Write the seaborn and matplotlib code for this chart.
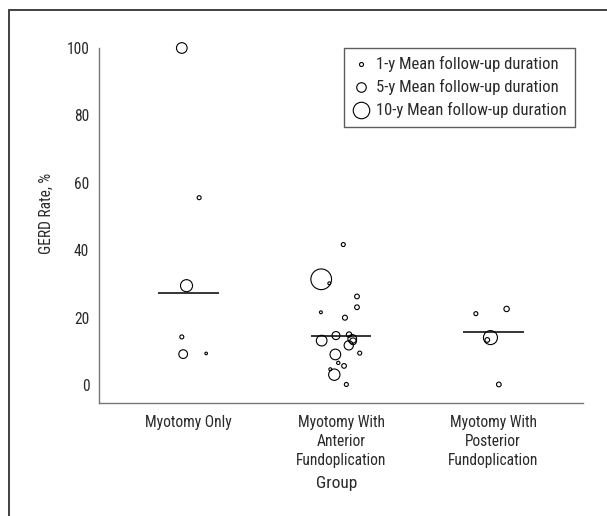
import matplotlib
matplotlib.use("Agg")
import matplotlib.pyplot as plt
from matplotlib import font_manager
from matplotlib.lines import Line2D
from matplotlib.patches import Rectangle
import pandas as pd
import seaborn as sns

groups = ["Myotomy Only",
          "Myotomy With\nAnterior\nFundoplication",
          "Myotomy With\nPosterior\nFundoplication"]

# per-study GERD rate (%), mean follow-up (y) and horizontal jitter
only_rate = [100, 55.6, 29.5, 14.3, 9.2, 9.4]
only_years = [5.8, 1.0, 6.8, 1.0, 4.4, 0.0]
only_jitter = [-0.046, 0.068, -0.015, -0.046, -0.037, 0.114]

ant_rate = [41.7, 31.4, 30.2, 26.3, 23.1, 21.6, 20.0, 14.7, 15.0, 13.2,
            13.7, 13.0, 11.8, 9.5, 9.1, 6.6, 5.7, 4.7, 3.1, 0.2]
ant_years = [1.0, 13.0, 0.2, 1.5, 1.5, 0.2, 1.7, 3.9, 2.0, 5.8,
             4.4, 3.0, 4.8, 1.0, 5.8, 0.5, 1.5, 0.3, 6.3, 1.0]
ant_jitter = [0.015, -0.13, -0.077, 0.105, 0.105, -0.132, 0.026, -0.033, 0.053, -0.127,
              0.074, 0.079, 0.051, 0.123, -0.037, -0.018, 0.02, -0.07, -0.044, 0.035]

post_rate = [21.2, 22.6, 14.1, 13.4, 0.2]
post_years = [1.0, 2.0, 8.2, 1.5, 1.5]
post_jitter = [-0.114, 0.088, -0.018, -0.039, 0.037]

group_means = [27.2, 14.5, 15.9]

legend_years = [1, 5, 10]
legend_labels = ["1-y Mean follow-up duration",
                 "5-y Mean follow-up duration",
                 "10-y Mean follow-up duration"]


def marker_pt(years):
    # circle diameter grows linearly with follow-up, in points
    return (2.6 + 1.39 * years) * 72 / 100


def pick_font():
    # the original uses a narrow Helvetica; take the closest narrow face available
    fonts = font_manager.fontManager.ttflist
    names = {f.name for f in fonts}
    for n in ["Liberation Sans Narrow", "Roboto Condensed", "Open Sans Condensed",
              "Noto Sans Condensed", "DejaVu Sans Condensed"]:
        if n in names:
            return n, "normal", 1.0
    for f in fonts:
        if f.name in ("Noto Sans", "DejaVu Sans", "Open Sans") and str(f.stretch) in (
                "condensed", "semi-condensed", "extra-condensed", "ultra-condensed"):
            return f.name, f.stretch, 1.0
    return "Liberation Sans", "normal", 0.88


rows = []
for g, (rate, yrs, jit) in enumerate([(only_rate, only_years, only_jitter),
                                      (ant_rate, ant_years, ant_jitter),
                                      (post_rate, post_years, post_jitter)]):
    for r, y, j in zip(rate, yrs, jit):
        rows.append({"pos": g + j, "rate": r, "years": y})
df = pd.DataFrame(rows)

font_name, font_stretch, k = pick_font()
fs_tick = 11.2 * k
fs_leg = 12 * k
fs_group = 12.5 * k

sns.set_style("white")
plt.rcParams["font.family"] = [font_name, "DejaVu Sans"]
plt.rcParams["font.stretch"] = font_stretch
text_c = "#2a2a2a"
spine_c = "#777777"

fig = plt.figure(figsize=(6.07, 5.16), dpi=100)
ax = fig.add_axes([99 / 607, 1 - 403 / 516, 484 / 607, 355 / 516])

size_map = {y: marker_pt(y) ** 2 for y in df["years"].unique()}
sns.scatterplot(data=df, x="pos", y="rate", size="years", sizes=size_map,
                legend=False, facecolor="none", edgecolor="black",
                linewidth=0.8, clip_on=False, ax=ax, zorder=3)

for i, m in enumerate(group_means):
    ax.hlines(m, i - 0.2, i + 0.2, color="black", lw=1.1, zorder=2)

ax.set_xlim(-0.59, 2.59)
ax.set_ylim(-5.3, 100)
ax.set_xticks(range(len(groups)))
ax.set_xticklabels(groups, linespacing=1.3)
ax.set_yticks(range(0, 101, 20))
sns.despine(ax=ax)
for s in ["left", "bottom"]:
    ax.spines[s].set_color(spine_c)
    ax.spines[s].set_linewidth(1.0)
ax.tick_params(axis="both", direction="out", length=4, width=1, color=spine_c,
               labelcolor=text_c, labelsize=fs_tick)
ax.tick_params(axis="x", pad=5)
ax.tick_params(axis="y", pad=3)

ax.set_xlabel("Group", fontsize=fs_group, color=text_c)
ax.set_ylabel("GERD Rate, %", fontsize=fs_tick, color=text_c)
ax.xaxis.set_label_coords(0.491, -0.205)
ax.yaxis.set_label_coords(-0.094, 0.535)

handles = [Line2D([], [], ls="none", marker="o", markersize=marker_pt(y),
                  mfc="none", mec="black", mew=0.8) for y in legend_years]
leg = ax.legend(handles, legend_labels, loc="upper right",
                bbox_to_anchor=(0.9835, 1.0), borderaxespad=0, frameon=True,
                fancybox=False, edgecolor="#333333", fontsize=fs_leg,
                handlelength=1.0, handletextpad=0.4, labelspacing=0.42,
                borderpad=0.5)
leg.get_frame().set_linewidth(1.0)
for t in leg.get_texts():
    t.set_color(text_c)

fig.patches.append(Rectangle((9 / 607, -0.1), 1.2, 0.1 + 1 - 10 / 516,
                             transform=fig.transFigure, fill=False,
                             edgecolor="#333333", lw=1.3))

fig.savefig("out.png", dpi=100)
